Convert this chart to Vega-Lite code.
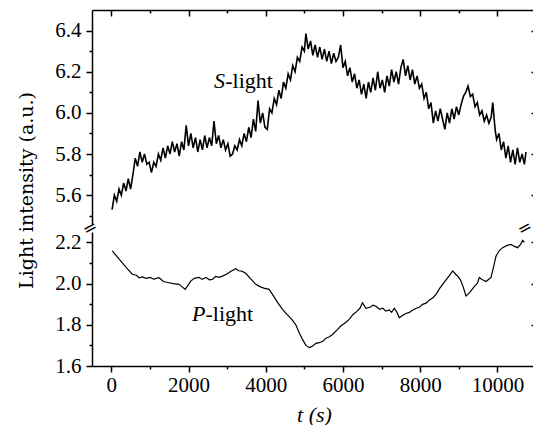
{
  "$schema": "https://vega.github.io/schema/vega-lite/v6.json",
  "padding": {"left": 17, "top": 9, "right": 0, "bottom": 0},
  "spacing": 8,
  "bounds": "flush",
  "config": {
    "font": "Liberation Serif",
    "view": {"stroke": null},
    "axis": {
      "grid": false,
      "domainColor": "black",
      "domainWidth": 1.5,
      "tickColor": "black",
      "tickWidth": 1.5,
      "labelColor": "black",
      "labelFont": "Liberation Serif",
      "labelFontSize": 21,
      "labelOverlap": false,
      "labelFlush": false,
      "titleColor": "black",
      "titleFontWeight": "normal"
    }
  },
  "datasets": {
    "s": [
      {"t":20,"v":5.53},{"t":80,"v":5.60},{"t":140,"v":5.57},{"t":200,"v":5.63},{"t":260,"v":5.60},{"t":320,"v":5.66},{"t":380,"v":5.62},{"t":440,"v":5.68},{"t":500,"v":5.63},{"t":560,"v":5.70},
      {"t":620,"v":5.78},{"t":680,"v":5.74},{"t":740,"v":5.81},{"t":800,"v":5.76},{"t":860,"v":5.80},{"t":920,"v":5.75},{"t":980,"v":5.76},{"t":1040,"v":5.71},{"t":1100,"v":5.76},{"t":1160,"v":5.74},
      {"t":1220,"v":5.80},{"t":1280,"v":5.77},{"t":1340,"v":5.83},{"t":1400,"v":5.78},{"t":1460,"v":5.84},{"t":1520,"v":5.80},{"t":1580,"v":5.86},{"t":1640,"v":5.81},{"t":1700,"v":5.85},{"t":1760,"v":5.79},
      {"t":1820,"v":5.86},{"t":1880,"v":5.82},{"t":1940,"v":5.94},{"t":2000,"v":5.84},{"t":2060,"v":5.90},{"t":2120,"v":5.83},{"t":2180,"v":5.88},{"t":2240,"v":5.81},{"t":2300,"v":5.87},{"t":2360,"v":5.82},
      {"t":2420,"v":5.89},{"t":2480,"v":5.83},{"t":2540,"v":5.88},{"t":2600,"v":5.84},{"t":2660,"v":5.96},{"t":2720,"v":5.85},{"t":2780,"v":5.89},{"t":2840,"v":5.83},{"t":2900,"v":5.87},{"t":2960,"v":5.82},
      {"t":3020,"v":5.85},{"t":3080,"v":5.79},{"t":3140,"v":5.80},{"t":3200,"v":5.84},{"t":3260,"v":5.82},{"t":3320,"v":5.87},{"t":3380,"v":5.84},{"t":3440,"v":5.90},{"t":3500,"v":5.86},{"t":3560,"v":5.93},
      {"t":3620,"v":5.88},{"t":3680,"v":5.97},{"t":3740,"v":5.91},{"t":3800,"v":6.06},{"t":3860,"v":5.95},{"t":3920,"v":6.00},{"t":3980,"v":5.93},{"t":4040,"v":5.92},{"t":4100,"v":6.02},{"t":4160,"v":6.00},
      {"t":4220,"v":6.07},{"t":4280,"v":6.04},{"t":4340,"v":6.11},{"t":4400,"v":6.07},{"t":4460,"v":6.15},{"t":4520,"v":6.12},{"t":4580,"v":6.19},{"t":4640,"v":6.16},{"t":4700,"v":6.23},{"t":4760,"v":6.20},
      {"t":4820,"v":6.27},{"t":4880,"v":6.25},{"t":4940,"v":6.32},{"t":5000,"v":6.30},{"t":5040,"v":6.385},{"t":5100,"v":6.31},{"t":5160,"v":6.35},{"t":5220,"v":6.28},{"t":5280,"v":6.33},{"t":5340,"v":6.27},
      {"t":5400,"v":6.32},{"t":5460,"v":6.26},{"t":5520,"v":6.31},{"t":5580,"v":6.25},{"t":5640,"v":6.30},{"t":5700,"v":6.24},{"t":5760,"v":6.29},{"t":5820,"v":6.25},{"t":5880,"v":6.27},{"t":5940,"v":6.33},
      {"t":6000,"v":6.22},{"t":6060,"v":6.25},{"t":6120,"v":6.18},{"t":6180,"v":6.22},{"t":6240,"v":6.15},{"t":6300,"v":6.19},{"t":6360,"v":6.12},{"t":6420,"v":6.16},{"t":6480,"v":6.09},{"t":6540,"v":6.14},
      {"t":6600,"v":6.07},{"t":6660,"v":6.15},{"t":6720,"v":6.10},{"t":6780,"v":6.17},{"t":6840,"v":6.11},{"t":6900,"v":6.20},{"t":6960,"v":6.12},{"t":7020,"v":6.16},{"t":7080,"v":6.10},{"t":7140,"v":6.18},
      {"t":7200,"v":6.13},{"t":7260,"v":6.21},{"t":7320,"v":6.15},{"t":7380,"v":6.20},{"t":7440,"v":6.14},{"t":7500,"v":6.22},{"t":7560,"v":6.26},{"t":7620,"v":6.18},{"t":7680,"v":6.23},{"t":7740,"v":6.16},
      {"t":7800,"v":6.21},{"t":7860,"v":6.14},{"t":7920,"v":6.18},{"t":7980,"v":6.12},{"t":8040,"v":6.14},{"t":8100,"v":6.07},{"t":8160,"v":6.10},{"t":8220,"v":6.02},{"t":8280,"v":6.05},{"t":8340,"v":5.95},
      {"t":8400,"v":6.01},{"t":8460,"v":5.96},{"t":8520,"v":6.02},{"t":8580,"v":5.97},{"t":8640,"v":5.92},{"t":8700,"v":6.00},{"t":8760,"v":5.95},{"t":8820,"v":6.02},{"t":8880,"v":5.97},{"t":8940,"v":6.03},
      {"t":9000,"v":5.99},{"t":9060,"v":6.04},{"t":9120,"v":6.08},{"t":9180,"v":6.10},{"t":9240,"v":6.13},{"t":9300,"v":6.08},{"t":9360,"v":6.09},{"t":9420,"v":6.03},{"t":9480,"v":6.05},{"t":9540,"v":5.99},
      {"t":9600,"v":6.01},{"t":9660,"v":5.96},{"t":9720,"v":5.99},{"t":9780,"v":5.95},{"t":9840,"v":5.98},{"t":9880,"v":6.05},{"t":9940,"v":5.92},{"t":9980,"v":5.87},{"t":10040,"v":5.90},{"t":10100,"v":5.82},
      {"t":10160,"v":5.86},{"t":10220,"v":5.78},{"t":10280,"v":5.84},{"t":10340,"v":5.76},{"t":10400,"v":5.82},{"t":10460,"v":5.75},{"t":10520,"v":5.83},{"t":10580,"v":5.76},{"t":10640,"v":5.80},{"t":10700,"v":5.75},{"t":10740,"v":5.81}
    ],
    "p": [
      {"t":26,"v":2.158},{"t":150,"v":2.13},{"t":286,"v":2.10},{"t":400,"v":2.075},{"t":545,"v":2.045},{"t":650,"v":2.04},{"t":720,"v":2.028},{"t":804,"v":2.032},{"t":900,"v":2.025},{"t":1000,"v":2.03},
      {"t":1100,"v":2.022},{"t":1236,"v":2.028},{"t":1350,"v":2.01},{"t":1496,"v":2.004},{"t":1600,"v":2.0},{"t":1755,"v":1.996},{"t":1830,"v":1.985},{"t":1910,"v":1.972},{"t":1980,"v":1.99},{"t":2057,"v":2.012},
      {"t":2150,"v":2.025},{"t":2274,"v":2.03},{"t":2350,"v":2.02},{"t":2450,"v":2.03},{"t":2540,"v":2.018},{"t":2619,"v":2.02},{"t":2700,"v":2.035},{"t":2800,"v":2.03},{"t":2878,"v":2.036},{"t":2980,"v":2.045},
      {"t":3100,"v":2.06},{"t":3224,"v":2.072},{"t":3300,"v":2.062},{"t":3380,"v":2.06},{"t":3483,"v":2.05},{"t":3600,"v":2.025},{"t":3742,"v":1.996},{"t":3850,"v":1.985},{"t":3950,"v":1.978},{"t":4088,"v":1.972},
      {"t":4200,"v":1.94},{"t":4320,"v":1.905},{"t":4434,"v":1.875},{"t":4550,"v":1.85},{"t":4680,"v":1.825},{"t":4779,"v":1.80},{"t":4870,"v":1.76},{"t":4952,"v":1.729},{"t":5040,"v":1.70},{"t":5125,"v":1.689},
      {"t":5200,"v":1.695},{"t":5300,"v":1.71},{"t":5384,"v":1.713},{"t":5480,"v":1.72},{"t":5560,"v":1.735},{"t":5650,"v":1.742},{"t":5730,"v":1.753},{"t":5850,"v":1.775},{"t":5950,"v":1.795},{"t":6062,"v":1.81},
      {"t":6162,"v":1.826},{"t":6260,"v":1.85},{"t":6360,"v":1.865},{"t":6440,"v":1.88},{"t":6507,"v":1.907},{"t":6594,"v":1.88},{"t":6700,"v":1.885},{"t":6780,"v":1.895},{"t":6853,"v":1.89},{"t":6950,"v":1.875},
      {"t":7030,"v":1.88},{"t":7112,"v":1.866},{"t":7200,"v":1.872},{"t":7260,"v":1.86},{"t":7329,"v":1.88},{"t":7400,"v":1.86},{"t":7458,"v":1.834},{"t":7540,"v":1.845},{"t":7630,"v":1.855},{"t":7718,"v":1.86},
      {"t":7800,"v":1.87},{"t":7900,"v":1.88},{"t":7980,"v":1.885},{"t":8063,"v":1.899},{"t":8150,"v":1.905},{"t":8240,"v":1.92},{"t":8323,"v":1.93},{"t":8420,"v":1.95},{"t":8500,"v":1.975},{"t":8582,"v":1.996},
      {"t":8680,"v":2.02},{"t":8760,"v":2.04},{"t":8841,"v":2.061},{"t":8920,"v":2.045},{"t":9000,"v":2.03},{"t":9057,"v":2.012},{"t":9120,"v":1.98},{"t":9187,"v":1.94},{"t":9250,"v":1.95},{"t":9316,"v":1.964},
      {"t":9400,"v":1.985},{"t":9480,"v":2.0},{"t":9532,"v":2.029},{"t":9600,"v":2.02},{"t":9705,"v":2.01},{"t":9770,"v":2.02},{"t":9835,"v":2.03},{"t":9900,"v":2.08},{"t":9964,"v":2.133},{"t":10050,"v":2.16},
      {"t":10137,"v":2.174},{"t":10250,"v":2.185},{"t":10353,"v":2.19},{"t":10440,"v":2.18},{"t":10526,"v":2.174},{"t":10600,"v":2.19},{"t":10656,"v":2.21},{"t":10700,"v":2.20}
    ]
  },
  "vconcat": [
    {
      "width": 444,
      "height": 214,
      "resolve": {"axis": {"x": "independent", "y": "independent"}},
      "layer": [
        {
          "data": {"name": "s"},
          "mark": {"type": "line", "color": "black", "strokeWidth": 1.6},
          "encoding": {
            "x": {"field": "t", "type": "quantitative",
              "scale": {"domain": [-500, 11000], "nice": false, "zero": false},
              "axis": {"orient": "top", "values": [0,1000,2000,3000,4000,5000,6000,7000,8000,9000,10000], "labels": false, "title": null,
                "tickSize": {"condition": {"test": "datum.value % 2000 === 0", "value": -6}, "value": -3}}},
            "y": {"field": "v", "type": "quantitative",
              "scale": {"domain": [5.46, 6.5], "nice": false, "zero": false},
              "axis": {"orient": "left", "values": [5.5,5.6,5.7,5.8,5.9,6.0,6.1,6.2,6.3,6.4],
                "labelExpr": "round(datum.value*10) % 2 === 0 ? format(datum.value, '.1f') : ''",
                "tickSize": {"condition": {"test": "round(datum.value*10) % 2 === 0", "value": 6}, "value": 3},
                "labelPadding": 5,
                "title": "Light intensity (a.u.)", "titleFont": "DejaVu Serif", "titleFontSize": 19,
                "titleX": -66, "titleY": 180, "titleAngle": -90, "titleAlign": "center", "titleBaseline": "middle"}}
          }
        },
        {
          "data": {"values": [{}]},
          "mark": {"type": "text", "font": "Liberation Serif", "fontSize": 22, "fontStyle": "italic", "align": "left", "baseline": "middle", "color": "black"},
          "encoding": {
            "x": {"datum": 2663, "type": "quantitative", "axis": null},
            "y": {"datum": 6.157, "type": "quantitative",
              "axis": {"orient": "right", "values": [5.6,5.8,6.0,6.2,6.4], "labels": false, "title": null, "tickSize": -5}},
            "text": {"value": "S"}
          }
        },
        {
          "data": {"values": [{}]},
          "mark": {"type": "text", "font": "Liberation Serif", "fontSize": 22, "align": "left", "baseline": "middle", "color": "black"},
          "encoding": {
            "x": {"datum": 2950, "type": "quantitative", "axis": null},
            "y": {"datum": 6.157, "type": "quantitative", "axis": null},
            "text": {"value": "-light"}
          }
        }
      ]
    },
    {
      "width": 444,
      "height": 134,
      "resolve": {"axis": {"x": "independent", "y": "independent"}},
      "layer": [
        {
          "data": {"name": "p"},
          "mark": {"type": "line", "color": "black", "strokeWidth": 1.2},
          "encoding": {
            "x": {"field": "t", "type": "quantitative",
              "scale": {"domain": [-500, 11000], "nice": false, "zero": false},
              "axis": {"orient": "bottom", "values": [0,1000,2000,3000,4000,5000,6000,7000,8000,9000,10000], "format": "d",
                "labelExpr": "datum.value % 2000 === 0 ? datum.label : ''",
                "tickSize": {"condition": {"test": "datum.value % 2000 === 0", "value": 6}, "value": 3},
                "labelPadding": 2,
                "title": "t (s)", "titleFont": "Liberation Serif", "titleFontSize": 22, "titleFontStyle": "italic", "titlePadding": 9}},
            "y": {"field": "v", "type": "quantitative",
              "scale": {"domain": [1.6, 2.25], "nice": false, "zero": false},
              "axis": {"orient": "left", "values": [1.6,1.7,1.8,1.9,2.0,2.1,2.2],
                "labelExpr": "round(datum.value*10) % 2 === 0 ? format(datum.value, '.1f') : ''",
                "tickSize": {"condition": {"test": "round(datum.value*10) % 2 === 0", "value": 6}, "value": 3},
                "labelPadding": 5, "title": null}}
          }
        },
        {
          "data": {"values": [{}]},
          "mark": {"type": "text", "font": "Liberation Serif", "fontSize": 22, "fontStyle": "italic", "align": "left", "baseline": "middle", "color": "black"},
          "encoding": {
            "x": {"datum": 2092, "type": "quantitative", "axis": null},
            "y": {"datum": 1.85, "type": "quantitative",
              "axis": {"orient": "right", "values": [1.8,2.0,2.2], "labels": false, "title": null, "tickSize": -5}},
            "text": {"value": "P"}
          }
        },
        {
          "data": {"values": [{}]},
          "mark": {"type": "text", "font": "Liberation Serif", "fontSize": 22, "align": "left", "baseline": "middle", "color": "black"},
          "encoding": {
            "x": {"datum": 2440, "type": "quantitative", "axis": null},
            "y": {"datum": 1.85, "type": "quantitative", "axis": null},
            "text": {"value": "-light"}
          }
        },
        {
          "data": {"values": [{}]},
          "mark": {"type": "text", "font": "DejaVu Sans", "fontSize": 17, "angle": -28, "align": "center", "baseline": "middle", "color": "black", "dy": -4},
          "encoding": {
            "x": {"datum": -500, "type": "quantitative", "axis": null},
            "y": {"datum": 2.25, "type": "quantitative", "axis": null},
            "text": {"value": "="}
          }
        },
        {
          "data": {"values": [{}]},
          "mark": {"type": "text", "font": "DejaVu Sans", "fontSize": 17, "angle": -28, "align": "center", "baseline": "middle", "color": "black", "dy": -4},
          "encoding": {
            "x": {"datum": 10760, "type": "quantitative", "axis": null},
            "y": {"datum": 2.25, "type": "quantitative", "axis": null},
            "text": {"value": "="}
          }
        }
      ]
    }
  ]
}
